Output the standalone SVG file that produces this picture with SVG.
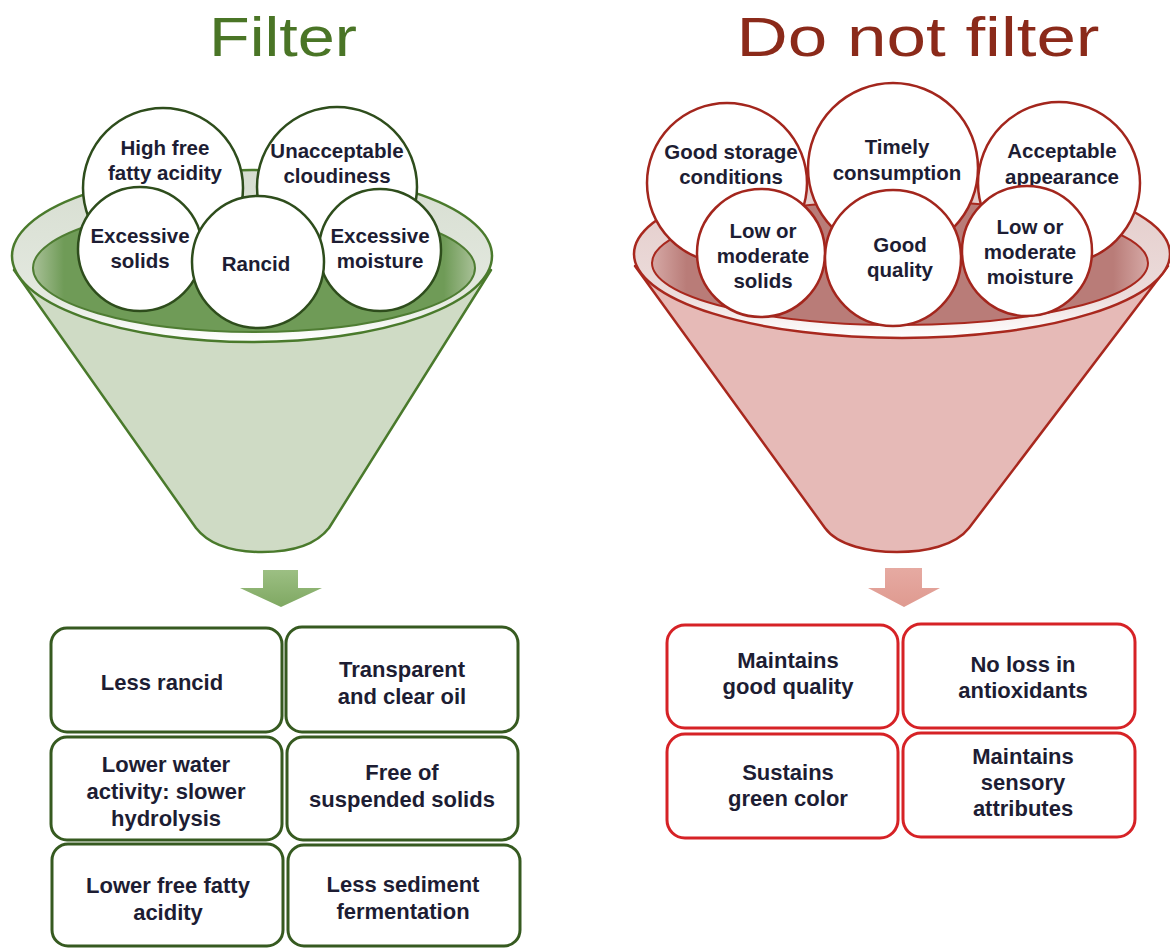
<svg xmlns="http://www.w3.org/2000/svg" width="1170" height="948" viewBox="0 0 1170 948">
<defs>
<linearGradient id="rimG" x1="0" y1="0" x2="0" y2="1"><stop offset="0" stop-color="#d6ddd0"/><stop offset="0.75" stop-color="#e4e9e0"/><stop offset="1" stop-color="#ffffff"/></linearGradient>
<linearGradient id="rimR" x1="0" y1="0" x2="0" y2="1"><stop offset="0" stop-color="#e2c9c7"/><stop offset="0.75" stop-color="#ecdcdb"/><stop offset="1" stop-color="#ffffff"/></linearGradient>
<linearGradient id="innG" x1="0" y1="0" x2="1" y2="0"><stop offset="0" stop-color="#a9c198"/><stop offset="0.07" stop-color="#6f9b57"/><stop offset="0.93" stop-color="#6f9b57"/><stop offset="1" stop-color="#a9c198"/></linearGradient>
<linearGradient id="innR" x1="0" y1="0" x2="1" y2="0"><stop offset="0" stop-color="#d6a9a6"/><stop offset="0.07" stop-color="#b97c78"/><stop offset="0.93" stop-color="#b97c78"/><stop offset="1" stop-color="#d6a9a6"/></linearGradient>
<linearGradient id="arrG" x1="0" y1="0" x2="0" y2="1"><stop offset="0" stop-color="#9cbf83"/><stop offset="1" stop-color="#7fa862"/></linearGradient>
<linearGradient id="arrR" x1="0" y1="0" x2="0" y2="1"><stop offset="0" stop-color="#e6aaa2"/><stop offset="1" stop-color="#df9a90"/></linearGradient>
</defs>
<style>
.t{font-family:"Liberation Sans","Open Sans",sans-serif;font-weight:bold;fill:#1d1d33;text-anchor:middle}
.c{font-size:20.5px}
.b{font-size:22px}
.cg{fill:#ffffff;stroke:#2e4d1c;stroke-width:2.5}
.cr{fill:#ffffff;stroke:#a3261d;stroke-width:2.5}
.bg{fill:#ffffff;stroke:#365a20;stroke-width:3}
.br{fill:#ffffff;stroke:#d62226;stroke-width:3}
.title{font-family:"Liberation Sans","Open Sans",sans-serif;font-size:56px;text-anchor:middle}
</style>
<rect width="1170" height="948" fill="#ffffff"/>

<text class="title" x="283" y="56" fill="#4a7526" textLength="148" lengthAdjust="spacingAndGlyphs">Filter</text>
<text class="title" x="918" y="56" fill="#8b2a1a" textLength="363" lengthAdjust="spacingAndGlyphs">Do not filter</text>

<g id="funnel-filter">
<path d="M 14,270 L 196,528 C 210,546 236,552 262,552 C 289,552 315,546 329,528 L 491,270 Z" fill="#cfdbc5" stroke="#4a7a2c" stroke-width="2.5" stroke-linejoin="round"/>
<ellipse cx="252" cy="256" rx="240" ry="86" fill="url(#rimG)" stroke="#4a7a2c" stroke-width="2.5"/>
<ellipse cx="254" cy="268" rx="221" ry="64" fill="url(#innG)" stroke="#4f7d33" stroke-width="2"/>
</g>

<g id="funnel-nofilter">
<path d="M 635,266 L 825,528 C 838,546 870,552 897,552 C 925,552 955,546 969,528 L 1168,266 Z" fill="#e6bab7" stroke="#a8281e" stroke-width="2.5" stroke-linejoin="round"/>
<ellipse cx="902" cy="254" rx="268" ry="84" fill="url(#rimR)" stroke="#a8281e" stroke-width="2.5"/>
<ellipse cx="900" cy="263" rx="248" ry="62" fill="url(#innR)" stroke="#a8281e" stroke-width="2"/>
</g>

<g id="c-high-ffa"><circle class="cg" cx="163" cy="188" r="80"/><text class="t c" x="165" y="155">High free</text><text class="t c" x="165" y="180">fatty acidity</text></g>
<g id="c-cloudiness"><circle class="cg" cx="337" cy="187" r="80"/><text class="t c" x="337" y="158">Unacceptable</text><text class="t c" x="337" y="183">cloudiness</text></g>
<g id="c-solids"><circle class="cg" cx="140" cy="249" r="62"/><text class="t c" x="140" y="243">Excessive</text><text class="t c" x="140" y="268">solids</text></g>
<g id="c-moisture"><circle class="cg" cx="380" cy="250" r="61"/><text class="t c" x="380" y="243">Excessive</text><text class="t c" x="380" y="268">moisture</text></g>
<g id="c-rancid"><circle class="cg" cx="258" cy="262" r="66"/><text class="t c" x="256" y="271">Rancid</text></g>

<g id="c-storage"><circle class="cr" cx="727" cy="183" r="80"/><text class="t c" x="731" y="159">Good storage</text><text class="t c" x="731" y="184">conditions</text></g>
<g id="c-acceptable"><circle class="cr" cx="1059" cy="183" r="81"/><text class="t c" x="1062" y="158">Acceptable</text><text class="t c" x="1062" y="184">appearance</text></g>
<g id="c-timely"><circle class="cr" cx="893" cy="168" r="85"/><text class="t c" x="897" y="154">Timely</text><text class="t c" x="897" y="180">consumption</text></g>
<g id="c-low-solids"><circle class="cr" cx="761" cy="253" r="64"/><text class="t c" x="763" y="238">Low or</text><text class="t c" x="763" y="263">moderate</text><text class="t c" x="763" y="288">solids</text></g>
<g id="c-low-moisture"><circle class="cr" cx="1027" cy="251" r="65"/><text class="t c" x="1030" y="234">Low or</text><text class="t c" x="1030" y="259">moderate</text><text class="t c" x="1030" y="284">moisture</text></g>
<g id="c-good-quality"><circle class="cr" cx="893" cy="258" r="68"/><text class="t c" x="900" y="252">Good</text><text class="t c" x="900" y="277">quality</text></g>

<g id="connectors">
<path d="M 263,570 L 298,570 L 298,588 L 322,588 L 281,607 L 240,588 L 263,588 Z" fill="url(#arrG)"/>
<path d="M 885,568 L 922,568 L 922,588 L 940,588 L 904,607 L 868,588 L 885,588 Z" fill="url(#arrR)"/>
</g>

<g id="b-less-rancid"><rect class="bg" x="51" y="628" width="231" height="104" rx="16"/><text class="t b" x="162" y="690">Less rancid</text></g>
<g id="b-transparent"><rect class="bg" x="286" y="627" width="232" height="105" rx="16"/><text class="t b" x="402" y="677">Transparent</text><text class="t b" x="402" y="704">and clear oil</text></g>
<g id="b-water"><rect class="bg" x="51" y="737" width="231" height="103" rx="16"/><text class="t b" x="166" y="772">Lower water</text><text class="t b" x="166" y="799">activity: slower</text><text class="t b" x="166" y="826">hydrolysis</text></g>
<g id="b-suspended"><rect class="bg" x="287" y="737" width="231" height="103" rx="16"/><text class="t b" x="402" y="780">Free of</text><text class="t b" x="402" y="807">suspended solids</text></g>
<g id="b-ffa"><rect class="bg" x="52" y="844" width="231" height="102" rx="16"/><text class="t b" x="168" y="893">Lower free fatty</text><text class="t b" x="168" y="920">acidity</text></g>
<g id="b-sediment"><rect class="bg" x="288" y="845" width="232" height="101" rx="16"/><text class="t b" x="403" y="892">Less sediment</text><text class="t b" x="403" y="919">fermentation</text></g>

<g id="b-maintains-quality"><rect class="br" x="667" y="625" width="231" height="103" rx="18"/><text class="t b" x="788" y="668">Maintains</text><text class="t b" x="788" y="694">good quality</text></g>
<g id="b-antioxidants"><rect class="br" x="903" y="624" width="232" height="104" rx="18"/><text class="t b" x="1023" y="672">No loss in</text><text class="t b" x="1023" y="698">antioxidants</text></g>
<g id="b-green"><rect class="br" x="667" y="734" width="231" height="104" rx="18"/><text class="t b" x="788" y="780">Sustains</text><text class="t b" x="788" y="806">green color</text></g>
<g id="b-sensory"><rect class="br" x="903" y="733" width="232" height="104" rx="18"/><text class="t b" x="1023" y="764">Maintains</text><text class="t b" x="1023" y="790">sensory</text><text class="t b" x="1023" y="816">attributes</text></g>
</svg>
